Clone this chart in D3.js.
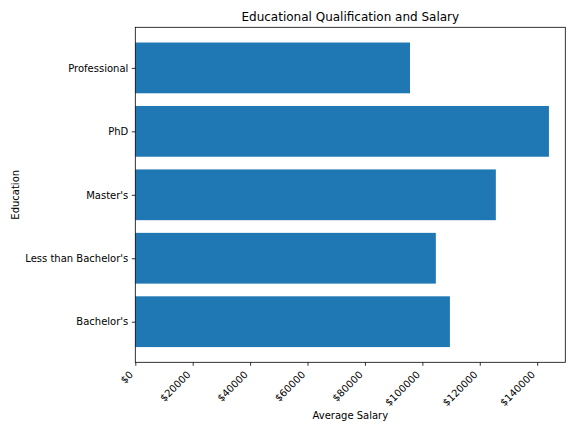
<!DOCTYPE html>
<html>
<head>
<meta charset="utf-8">
<script src="https://cdn.jsdelivr.net/npm/d3@7"></script>
<style>
  body { margin: 0; background: #fff; }
  svg { font-family: 'DejaVu Sans', sans-serif; }
</style>
</head>
<body>
<script>
// values
const educations = ["Bachelor's", "Less than Bachelor's", "Master's", 'PhD', 'Professional']
const avgSalary = [109600, 104700, 125600, 144100, 95700]
const salaryTicks = [0, 20000, 40000, 60000, 80000, 100000, 120000, 140000]

const width = 576
const height = 432
const margin = { top: 27.3, right: 10.7, bottom: 69.7, left: 135.3 }
const font = 'DejaVu Sans, sans-serif'

const svg = d3.select('body').append('svg')
  .attr('xmlns', 'http://www.w3.org/2000/svg')
  .attr('width', width)
  .attr('height', height)

const x = d3.scaleLinear()
  .domain([0, 149800])
  .range([margin.left, width - margin.right])

// matplotlib-style category axis: bars 0.8 wide, 5% margins
const y = d3.scaleLinear()
  .domain([-0.64, educations.length - 1 + 0.64])
  .range([height - margin.bottom, margin.top])

const data = educations.map((name, i) => ({ name, value: avgSalary[i], i }))

// Bars
svg.append('g')
  .selectAll('rect')
  .data(data)
  .join('rect')
  .attr('x', x(0))
  .attr('y', d => y(d.i + 0.4))
  .attr('width', d => x(d.value) - x(0))
  .attr('height', d => y(d.i - 0.4) - y(d.i + 0.4))
  .attr('fill', '#1f77b4')

// X axis
const xAxis = svg.append('g')
  .attr('transform', `translate(0,${height - margin.bottom})`)
  .call(d3.axisBottom(x).tickValues(salaryTicks).tickSize(3.5).tickPadding(0)
    .tickFormat(d => `$${d}`))
  .attr('font-family', font)
  .attr('font-size', 10)

xAxis.select('.domain').remove()
xAxis.selectAll('line').attr('stroke', '#000').attr('stroke-width', 0.8)
xAxis.selectAll('text')
  .attr('fill', '#000')
  .attr('text-anchor', 'end')
  .attr('y', 0)
  .attr('dy', 0)
  .attr('transform', 'translate(-2,13) rotate(-45)')

// Y axis
const yAxis = svg.append('g')
  .attr('transform', `translate(${margin.left},0)`)
  .call(d3.axisLeft(y).tickValues(data.map(d => d.i)).tickSize(3.5).tickPadding(3.5)
    .tickFormat(i => educations[i]))
  .attr('font-family', font)
  .attr('font-size', 10)

yAxis.select('.domain').remove()
yAxis.selectAll('line').attr('stroke', '#000').attr('stroke-width', 0.8)
yAxis.selectAll('text').attr('fill', '#000')

// Frame
svg.append('rect')
  .attr('x', margin.left)
  .attr('y', margin.top)
  .attr('width', width - margin.left - margin.right)
  .attr('height', height - margin.top - margin.bottom)
  .attr('fill', 'none')
  .attr('stroke', '#000')
  .attr('stroke-width', 0.8)

// Labels
const cx = (margin.left + width - margin.right) / 2
svg.append('text')
  .attr('x', cx)
  .attr('y', 21)
  .attr('text-anchor', 'middle')
  .attr('font-size', 12)
  .text('Educational Qualification and Salary')

svg.append('text')
  .attr('x', cx)
  .attr('y', 419)
  .attr('text-anchor', 'middle')
  .attr('font-size', 10)
  .text('Average Salary')

svg.append('text')
  .attr('transform', `translate(19,${(margin.top + height - margin.bottom) / 2}) rotate(-90)`)
  .attr('text-anchor', 'middle')
  .attr('font-size', 10)
  .text('Education')
</script>
</body>
</html>
